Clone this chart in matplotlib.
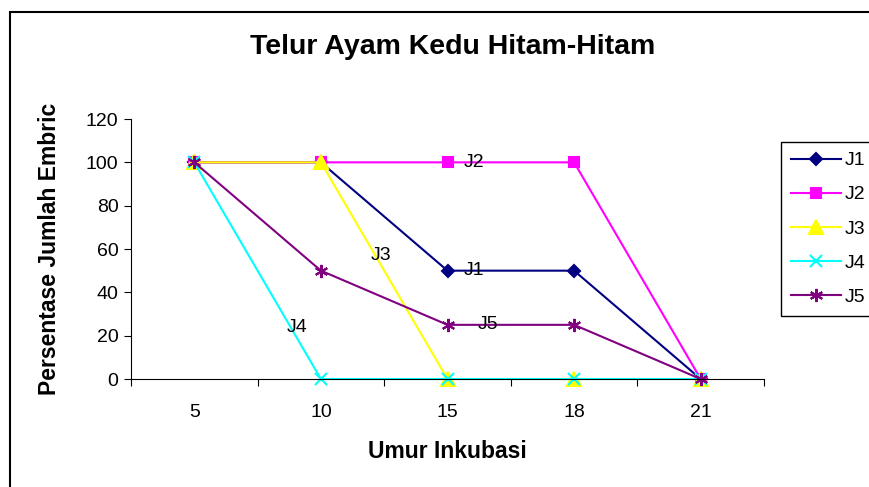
import matplotlib
matplotlib.use('Agg')
import matplotlib.pyplot as plt
from matplotlib.patches import Rectangle

# data
umur = ['5', '10', '15', '18', '21']
series = ['J1', 'J2', 'J3', 'J4', 'J5']
j1 = [100, 100, 50, 50, 0]
j2 = [100, 100, 100, 100, 0]
j3 = [100, 100, 0, 0, 0]
j4 = [100, 0, 0, 0, 0]
j5 = [100, 50, 25, 25, 0]
values = [j1, j2, j3, j4, j5]

colors = ['#000080', '#FF00FF', '#FFFF00', '#00FFFF', '#800080']
markers = ['D', 's', '^', 'x', (6, 2, 0)]
msizes = [6.5, 7.5, 9.5, 8.5, 9.5]

plt.rcParams['font.family'] = ['Liberation Sans', 'DejaVu Sans']

fig = plt.figure(figsize=(8.69, 4.87), dpi=100)
ax = fig.add_axes([131/869, 1-379/487, (764-131)/869, (379-119)/487])

x = list(range(len(umur)))
for name, vals, c, m, ms in zip(series, values, colors, markers, msizes):
    ax.plot(x, vals, color=c, marker=m, markersize=ms, lw=1.5,
            markeredgewidth=1.5, label=name, clip_on=False)

# data labels (series names)
lab = dict(fontsize=14, va='center', ha='left')
ax.text(2.13, 100, 'J2', **lab)
ax.text(2.13, 50, 'J1', **lab)
ax.text(2.24, 25, 'J5', **lab)
ax.text(1.39, 57, 'J3', **lab)
ax.text(0.73, 24, 'J4', **lab)

ax.set_xlim(-0.5, len(umur) - 0.5)
ax.set_ylim(0, 120)
ax.set_yticks(range(0, 121, 20))
ax.set_xticks([i - 0.5 for i in range(len(umur) + 1)])
ax.set_xticklabels([])
ax.set_xticks(x, minor=True)
ax.set_xticklabels(umur, minor=True)
ax.tick_params(axis='x', which='minor', length=0, pad=18, labelsize=14)
ax.tick_params(axis='x', which='major', length=5, direction='out')
ax.tick_params(axis='y', length=5, direction='out', pad=4, labelsize=14)
ax.spines['top'].set_visible(False)
ax.spines['right'].set_visible(False)

ax.set_xlabel('Umur Inkubasi', fontsize=16.5, fontweight='bold', labelpad=14)
ax.set_ylabel('Persentase Jumlah Embric', fontsize=16.5, fontweight='bold', labelpad=18)

fig.text(453/869, 1-47/487, 'Telur Ayam Kedu Hitam-Hitam', fontsize=20.5,
         fontweight='bold', ha='center', va='center')

leg = ax.legend(loc='upper left', bbox_to_anchor=(781/869, 1-142/487),
                bbox_transform=fig.transFigure, fontsize=14, frameon=True,
                fancybox=False, framealpha=1, edgecolor='black',
                handlelength=2.6, labelspacing=0.85, borderaxespad=0,
                handletextpad=0.2, borderpad=0.5)
leg.get_frame().set_linewidth(1.0)

# chart area border
fig.patches.append(Rectangle((10/869, -0.1), 1.1, 1.1 - 12/487,
                             transform=fig.transFigure, fill=False,
                             edgecolor='black', lw=1.5, figure=fig))

fig.savefig('out.png', dpi=100)
